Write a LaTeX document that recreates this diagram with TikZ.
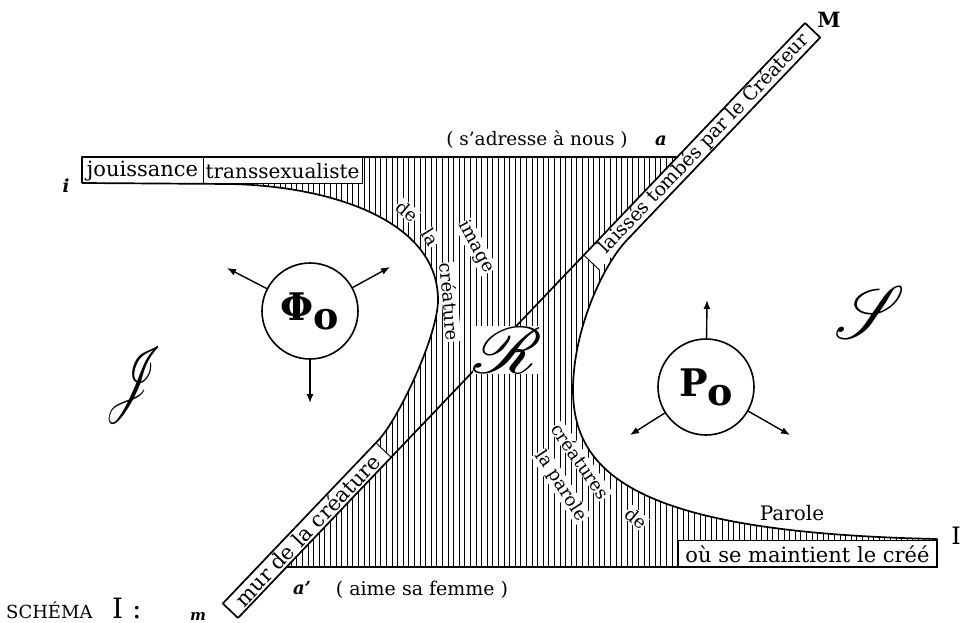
\documentclass[tikz,border=0pt]{standalone}
\usepackage{fontspec}
\usepackage{graphicx}
\setmainfont{DejaVu Serif}
\usetikzlibrary{arrows.meta}
\newcommand{\fsz}[1]{\fontsize{#1}{#1}\selectfont}
\newcommand{\scrletter}[3]{\resizebox{#1}{#2}{\fontsize{24.88}{24.88}\usefont{U}{rsfs}{m}{n}#3}}
\begin{document}
\begin{tikzpicture}[x=1pt,y=-1pt,
  outline/.style={line width=1.7pt, line join=round},
  hatch/.style={line width=0.9pt},
  thinbox/.style={line width=0.9pt},
  lbl/.style={inner sep=0pt, font=\fsz{20}},
  small/.style={inner sep=0pt, font=\fsz{18}},
  inhatch/.style={fill=white, inner sep=0.6pt, font=\fsz{18}},
  ring/.style={circle, draw, line width=1.6pt, minimum size=96pt, inner sep=0pt},
  arr/.style={line width=1.4pt, -{Latex[length=9pt,width=7pt]}},
]
\useasboundingbox (0,0) rectangle (979,623);
\fill[white] (0,0) rectangle (979,623);

% key points
\coordinate (A) at (238,618);
\coordinate (B) at (805,23);
\coordinate (Ap) at (222.8,603.5);
\coordinate (Bp) at (820.2,37.5);
\coordinate (T0) at (82,157);
\coordinate (T1) at (677,157);
\coordinate (L0) at (82,183);
\coordinate (L1) at (230,184);
\coordinate (V) at (438,300);
\coordinate (Q) at (378.6,440);
\coordinate (Q2) at (627,240);
\coordinate (V2) at (573,390);
\coordinate (R1) at (937,539);
\coordinate (R2) at (937,567);
\coordinate (B1) at (286.6,567);
\coordinate (D) at (391.1,457.3);
\coordinate (Dp) at (375.9,442.8);
\coordinate (E) at (583.8,255.1);
\coordinate (Ep) at (599.0,269.6);

% hatched region
\begin{scope}
\clip (T0) -- (T1) -- (B) -- (Bp) -- (Q2) .. controls (603,265) and (573,330) .. (V2)
  .. controls (573,480) and (650,533) .. (R1) -- (R2) -- (B1) -- (A) -- (Ap) -- (Q)
  .. controls (399,418) and (438,335) .. (V) .. controls (438,220) and (330,186) .. (L1) -- (L0) -- cycle;
\foreach \i in {0,...,153} \draw[hatch] ({84+5.6*\i},0) -- ({84+5.6*\i},623);
\end{scope}

% white text strips
\fill[white] (A) -- (D) -- (Dp) -- (Ap) -- cycle;
\fill[white] (E) -- (B) -- (Bp) -- (Ep) -- cycle;
\filldraw[fill=white, thinbox] (82,157) rectangle (203,183);
\filldraw[fill=white, thinbox] (203,157) rectangle (362,183);
\filldraw[fill=white, thinbox] (678,540) rectangle (937,567);
\draw[thinbox] (D) -- (Dp);
\draw[thinbox] (E) -- (Ep);

% outlines
\draw[outline] (L0) -- (T0) -- (T1);
\draw[outline] (A) -- (B);
\draw[outline] (L0) -- (L1) .. controls (330,186) and (438,220) .. (V)
  .. controls (438,335) and (399,418) .. (Q) -- (Ap) -- (A);
\draw[outline] (B) -- (Bp) -- (Q2) .. controls (603,265) and (573,330) .. (V2)
  .. controls (573,480) and (650,533) .. (R1) -- (R2) -- (B1);

% strip texts
\node[lbl, font=\fsz{21}] (jou) at (142.5,171) {jouissance};
\node[lbl] (tra) at (282.5,171) {transsexualiste};
\node[lbl, rotate=46.4, font=\fsz{19}] (lai) at (704,144) {laissés tombés par le Créateur};
\node[lbl, rotate=46.4, font=\fsz{21}] (mur) at (307,530) {mur de la créature};
\node[lbl, font=\fsz{21}] (ou) at (807.5,554) {où se maintient le créé};

% texts in hatched area
\node[inhatch, rotate=-40] (w1) at (407,211) {de};
\node[inhatch, rotate=-58] (w2) at (431,237) {la};
\node[inhatch, rotate=-85] (w3) at (450,302) {créature};
\node[inhatch, rotate=-62] (w4) at (476,247) {image};
\node[inhatch, rotate=-55] (w5) at (581,461) {créatures};
\node[inhatch, rotate=-40] (w6) at (636,518) {de};
\node[inhatch, rotate=-57] (w7) at (561,486) {la parole};

% other labels
\node[inner sep=0pt, font=\fsz{18}\bfseries\itshape] (li) at (66,186) {i};
\node[small, font=\fsz{18.5}] (adr) at (537,140) {( s’adresse à nous )};
\node[inner sep=0pt, font=\fsz{18}\bfseries\itshape] (la) at (661,141) {a};
\node[inner sep=0pt, font=\fsz{21}\bfseries] (lM) at (829,20) {M};
\node[lbl] (par) at (792,513) {Parole};
\node[inner sep=0pt, font=\fsz{24}] (lI) at (956,536) {I};
\node[inner sep=0pt, font=\fsz{18}\bfseries\itshape] (lap) at (302,588) {a’};
\node[small, font=\fsz{19}] (aime) at (422,590) {( aime sa femme )};
\node[inner sep=0pt, font=\fsz{15}\bfseries\itshape] (lm) at (198,616) {m};
\node[inner sep=0pt, anchor=base west, font=\fsz{18}] (sch) at (6,618) {SCHÉMA};
\node[inner sep=0pt, anchor=base west, font=\fsz{28}] (schI) at (112,618) {I :};

% script letters
\node[inner sep=0pt] (J) at (130,385) {\scrletter{50pt}{54pt}{J}};
\node[inner sep=0pt] (S) at (863,312) {\scrletter{58pt}{52pt}{S}};
\node[inner sep=1pt, fill=white] (R) at (506,350) {\scrletter{64pt}{46pt}{R}};

% circles
\node[ring] (phi) at (310,311) {\fsz{38}\bfseries Φ\raisebox{-9pt}{o}};
\node[ring] (po) at (706,387) {\fsz{38}\bfseries P\raisebox{-9pt}{o}};
\coordinate (t1) at (227,268);
\coordinate (t2) at (390,267);
\coordinate (t3) at (310,403);
\coordinate (u1) at (707,300);
\coordinate (u2) at (630,435);
\coordinate (u3) at (790,435);
\draw[arr] (phi) -- (t1);
\draw[arr] (phi) -- (t2);
\draw[arr] (phi) -- (t3);
\draw[arr] (po) -- (u1);
\draw[arr] (po) -- (u2);
\draw[arr] (po) -- (u3);
\end{tikzpicture}
\end{document}
